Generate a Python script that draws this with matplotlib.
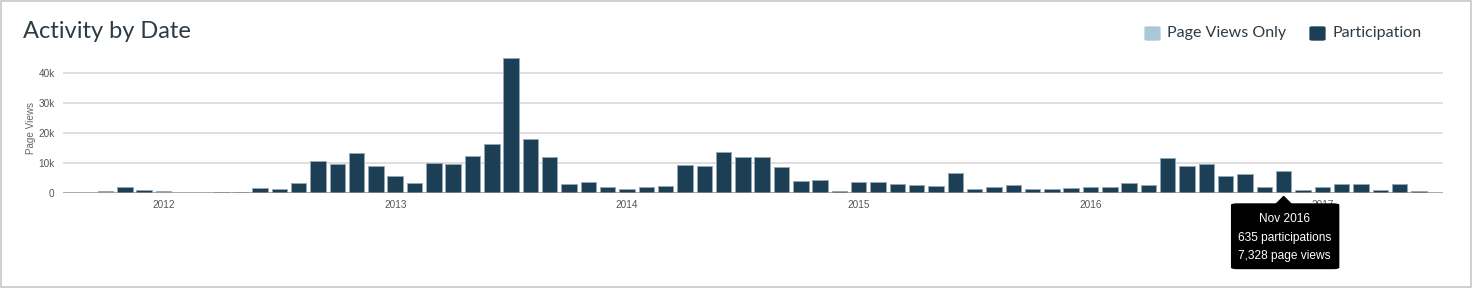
import matplotlib.pyplot as plt
from matplotlib.patches import FancyBboxPatch, Polygon, Rectangle

W, H = 1475, 290

# monthly data, Oct 2011 .. Jun 2017
start_year, start_month = 2011, 10
page_views = [
    500, 1800, 900,                                                      # 2011
    600, 0, 0, 250, 250, 1500, 1200, 3200, 10600, 9700, 13200, 8900,     # 2012
    5500, 3300, 9900, 9700, 12300, 16200, 45000, 17900, 12000, 3000, 3500, 1800,  # 2013
    1100, 1900, 2400, 9400, 9000, 13500, 12100, 12100, 8500, 4000, 4400, 500,     # 2014
    3700, 3700, 2800, 2500, 2400, 6500, 1100, 1800, 2700, 1200, 1100, 1700,      # 2015
    2000, 2000, 3100, 2500, 11500, 9000, 9600, 5700, 6200, 1900, 7328, 1000,     # 2016
    1900, 2900, 2800, 1000, 2900, 700,                                   # 2017
]
# months with no participation (page views only)
views_only = ["Oct 2011", "Jan 2012"]
years = [2012, 2013, 2014, 2015, 2016, 2017]
y_ticks = [0, 10000, 20000, 30000, 40000]
y_labels = ["0", "10k", "20k", "30k", "40k"]
tooltip_month = "Nov 2016"
tooltip_participations = 635

MONTHS = ["Jan", "Feb", "Mar", "Apr", "May", "Jun", "Jul", "Aug", "Sep", "Oct", "Nov", "Dec"]

DARK = "#1c3f55"
LIGHT = "#aac7d8"
TEXT = "#2d3b45"

# month index relative to Jan 2012
xs, names = [], []
for i in range(len(page_views)):
    m = start_month - 1 + i
    y = start_year + m // 12
    xs.append((y - 2012) * 12 + m % 12)
    names.append("%s %d" % (MONTHS[m % 12], y))
colors = [LIGHT if n in views_only else DARK for n in names]

fig = plt.figure(figsize=(W / 100, H / 100), dpi=100)
fig.patch.set_facecolor("white")


def fx(px):
    return px / W


def fy(py):
    return (H - py) / H


ax_l, ax_r, ax_b, ax_t = 63, 1443, 192.7, 49.4
ax = fig.add_axes([fx(ax_l), fy(ax_b), fx(ax_r - ax_l), (ax_b - ax_t) / H])
ax.set_xlim(-5.2, 66.25)
ax.set_ylim(0, 48000)

ax.bar(xs, page_views, width=0.8, color=colors, edgecolor="#93a7b4", linewidth=0.7, zorder=3)

for v in y_ticks[1:]:
    ax.axhline(v, color="#d6d6d6", lw=1.1, zorder=1)
ax.axhline(0, color="#909090", lw=1.8, zorder=4)

for s in ax.spines.values():
    s.set_visible(False)
ax.set_yticks(y_ticks, y_labels)
ax.set_xticks([(y - 2012) * 12 for y in years], [str(y) for y in years])
ax.tick_params(length=0, labelsize=7.2, labelcolor="#555555", pad=5)
ax.tick_params(axis="y", pad=6)
for lab in ax.get_xticklabels() + ax.get_yticklabels():
    lab.set_fontfamily("Liberation Sans")
ax.set_ylabel("Page Views", fontsize=7.1, color="#666666", family="Liberation Sans")
ax.yaxis.set_label_coords((36.5 - ax_l) / (ax_r - ax_l), (ax_b - 128) / (ax_b - ax_t))

# title and legend
fig.text(fx(23), fy(31), "Activity by Date", fontsize=17, color=TEXT, family="Lato",
         va="center", ha="left")
for x0, c, lab in [(1145, LIGHT, "Page Views Only"), (1310, DARK, "Participation")]:
    fig.add_artist(FancyBboxPatch((fx(x0 + 1), fy(40)), fx(13), 13 / H,
                                  boxstyle="round,pad=0.0008,rounding_size=0.002",
                                  transform=fig.transFigure, fc=c, ec=c, lw=0.5))
    fig.text(fx(x0 + 22), fy(33), lab, fontsize=11.5, color=TEXT, family="Lato",
             va="center", ha="left")

# tooltip on Nov 2016
k = names.index(tooltip_month)
bx = ax.transData.transform((xs[k], 0))[0]
box_l, box_r, box_t, box_b = bx - 52, bx + 55, 204, 268.5
fig.add_artist(FancyBboxPatch((fx(box_l), fy(box_b)), fx(box_r - box_l), (box_b - box_t) / H,
                              boxstyle="round,pad=0,rounding_size=0.004",
                              transform=fig.transFigure, fc="black", ec="black", zorder=10))
fig.add_artist(Polygon([(fx(bx - 8), fy(box_t + 0.5)), (fx(bx), fy(196.5)), (fx(bx + 8), fy(box_t + 0.5))],
                       closed=True, transform=fig.transFigure, fc="black", ec="black", zorder=10))
lines = [tooltip_month, "%d participations" % tooltip_participations,
         "{:,} page views".format(page_views[k])]
for j, t in enumerate(lines):
    fig.text(fx(bx + 1), fy(219.5 + j * 18.5), t, fontsize=8.6, color="white",
             family="Liberation Sans", ha="center", va="center", zorder=11)

# card border
fig.add_artist(Rectangle((fx(1), fy(287)), fx(1470), 286 / H, transform=fig.transFigure,
                         fill=False, ec="#c8c8c8", lw=1.2))

fig.savefig("out.png", dpi=100)
